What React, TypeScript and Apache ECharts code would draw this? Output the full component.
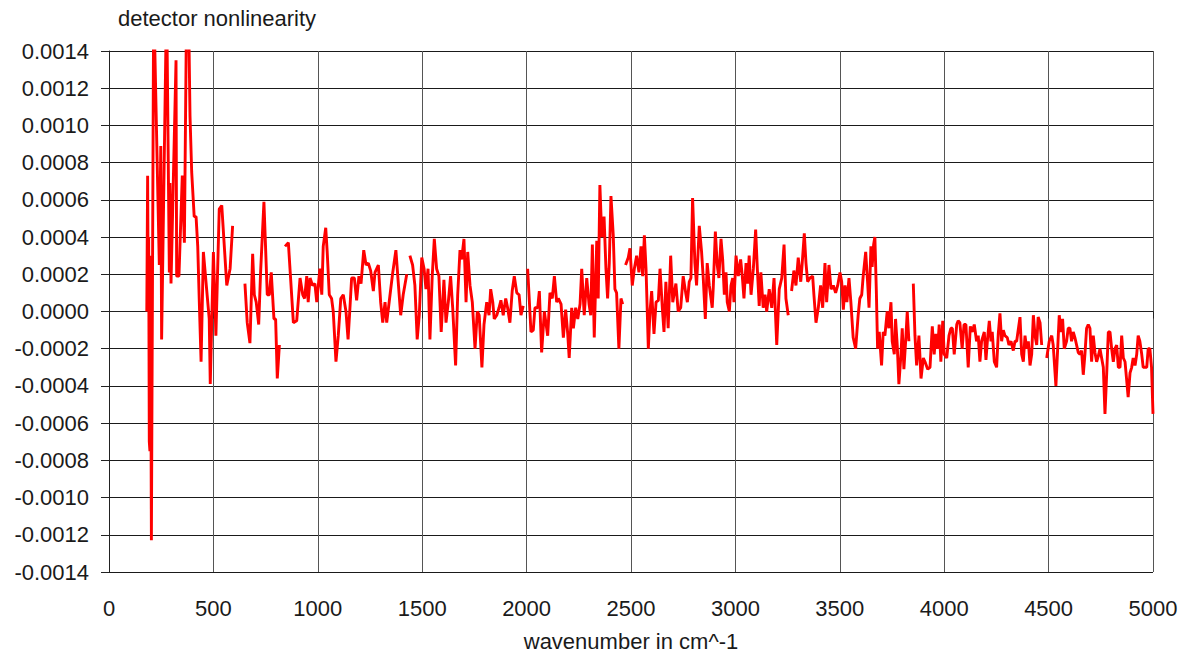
import React, { useEffect, useRef } from "react";
import * as echarts from "echarts";

const chartTitle = "detector nonlinearity";
const xAxisName = "wavenumber in cm^-1";

// wavenumber (cm^-1) positions; null values mark gaps in the measured curve
const wavenumbers = [
  181, 185, 188, 190, 193, 196, 199, 203, 214, 241, 248, 252, 276, 289, 292, 297, 321, 324, 335, 351,
  361, 372, 380, 388, 396, 408, 417, 425, 432, 441, 452, 480, 485, 500, 512, 528, 540, 564, 580, 592,
  620,
  651, 662, 675, 688, 696, 705, 717, 726, 742, 758, 768, 777, 790, 798, 806, 816,
  830,
  843, 859, 883, 899, 915, 928, 937, 947, 954, 963, 975, 986, 995, 1010, 1019, 1026, 1038, 1045, 1055,
  1066, 1074, 1087, 1098, 1110, 1122, 1135, 1145, 1154, 1162, 1175, 1186, 1197, 1207, 1220, 1231, 1242,
  1253, 1266, 1274, 1290, 1301, 1311, 1322, 1330, 1346, 1359, 1374, 1385, 1397, 1409, 1426,
  1433,
  1441, 1454, 1465, 1476, 1486, 1498, 1509, 1518, 1528, 1537, 1548, 1558, 1569, 1580, 1591, 1604, 1614,
  1625, 1636, 1646, 1660, 1670, 1681, 1689, 1700, 1710, 1718, 1729, 1740, 1753, 1764, 1773, 1786, 1796,
  1809, 1820, 1828, 1838, 1845, 1857, 1868, 1877, 1888, 1900, 1909, 1920, 1931, 1941, 1953, 1964, 1973,
  1984,
  1995,
  2005, 2021, 2032, 2040, 2053, 2061, 2072, 2085, 2101, 2112, 2123, 2133, 2144, 2152, 2165, 2176, 2187,
  2197, 2204, 2216, 2224, 2235, 2245, 2256, 2264, 2276, 2288, 2299, 2307, 2315, 2324, 2336, 2343, 2351,
  2360, 2371, 2380, 2388, 2396, 2404, 2415, 2423, 2431, 2442, 2452, 2460,
  2466,
  2474, 2487, 2495, 2506, 2516, 2527, 2538, 2548, 2556, 2564, 2572, 2583, 2591, 2599, 2610, 2620, 2631,
  2639, 2650, 2658, 2667, 2678, 2690, 2700, 2706, 2715, 2726, 2738, 2750, 2762, 2770, 2779, 2787, 2795,
  2806, 2814, 2827, 2838, 2846, 2856, 2865, 2875, 2889, 2894, 2904, 2913, 2921, 2931, 2939, 2947, 2955,
  2961, 2971, 2979, 2987, 2993, 3003, 3014, 3025, 3033, 3041, 3051, 3059, 3066, 3075, 3086, 3097, 3105,
  3114, 3122, 3133, 3142, 3150, 3162, 3174, 3185, 3198, 3210, 3222, 3233, 3242, 3253,
  3258,
  3269, 3280, 3290, 3301, 3313, 3320, 3330, 3338, 3346, 3357, 3370, 3376, 3386, 3397, 3408, 3418, 3429,
  3437, 3448, 3458, 3469, 3480, 3490, 3501, 3509, 3517, 3525, 3534, 3544, 3553, 3564, 3576, 3588, 3596,
  3605, 3612, 3624, 3633, 3640, 3649, 3655, 3662, 3668, 3675, 3681, 3689, 3700, 3708, 3716, 3727, 3735,
  3745, 3751, 3761, 3767, 3775, 3783, 3793, 3799, 3807, 3817, 3823, 3831,
  3840,
  3852, 3860, 3868, 3879, 3889, 3900, 3908, 3921, 3932, 3943, 3952, 3960, 3969, 3976, 3984, 3993, 4000,
  4012, 4023, 4032, 4039, 4048, 4060, 4067, 4075, 4086, 4095, 4104, 4115, 4125, 4134, 4144, 4155, 4163,
  4171, 4179, 4192, 4200, 4208, 4216, 4224, 4230, 4240, 4251, 4259, 4267, 4275, 4283, 4291, 4302, 4310,
  4320, 4331, 4339, 4347, 4363, 4371, 4379, 4387, 4395, 4403, 4411, 4419, 4427, 4435, 4443, 4450, 4459,
  4467,
  4480,
  4491, 4503, 4515, 4522, 4535, 4543, 4551, 4559, 4567, 4575, 4586, 4594, 4602, 4610, 4618, 4626, 4634,
  4642, 4650, 4658, 4666, 4674, 4682, 4690, 4698, 4706, 4714, 4722, 4730, 4738, 4746, 4754, 4762, 4770,
  4778, 4786, 4794, 4802, 4810, 4818, 4826, 4834, 4842, 4850, 4858, 4866, 4874, 4881, 4890, 4898, 4905,
  4914, 4922, 4929, 4937, 4946, 4953, 4961, 4970, 4977, 4985, 4993, 5000,
];

const nonlinearity = [
  0.0, 0.00073, 0.00005, 0.0004, -0.0007, -0.00075, 0.0003, -0.00123, 0.0017, 0.00025, 0.00089, -0.00015,
  0.0017, 0.00021, 0.00069, 0.00015, 0.00135, 0.00019, 0.00019, 0.00073, 0.00037, 0.0017, 0.0017, 0.00105,
  0.00075, 0.00051, 0.00051, 0.00035, 0.00007, -0.00027, 0.00032, -0.00004, -0.00039, 0.00032, -0.00013,
  0.00055, 0.00057, 0.00014, 0.00023, 0.00046,
  null,
  0.00015, -0.00006, -0.00017, 0.00031, 0.00009, 0.00005, -0.00007, 0.00021, 0.00059, 0.00009, 0.00009,
  0.00021, -0.00004, -0.00004, -0.00036, -0.00018,
  null,
  0.00035, 0.00037, -0.00006, -0.00005, 0.00018, 0.00009, 0.00007, 0.00019, 0.00005, 0.00018, 0.00014,
  0.00015, 0.00005, 0.00023, 0.00009, 0.00035, 0.00045, 0.00032, 0.00009, 0.00007, 0.0, -0.00027, -0.00013,
  0.00007, 0.00009, 0.0, -0.00015, 0.00002, 0.00018, 0.00018, 0.00006, 0.00019, 0.00015, 0.00033, 0.00025,
  0.00026, 0.00022, 0.00011, 0.00021, 0.00025, 0.00005, -0.00006, 0.00005, -0.00006, 0.00009, 0.00021,
  0.00033, 0.00016, -0.00002, 0.00009, 0.0002,
  null,
  0.0003, 0.00025, 0.00014, -0.00015, -0.00002, 0.00029, 0.00023, 0.00012, 0.00023, -0.00015, 0.00019,
  0.00039, 0.00023, 0.00019, -0.00011, 0.00017, -0.00006, 0.00005, 0.00019, 0.00002, -0.00029, 0.00009,
  0.00033, 0.00028, 0.00039, 0.00005, 0.00032, 0.00014, 0.00005, -0.0002, 0.0, -0.00002, -0.0003, -0.00007,
  0.00005, -0.00002, 0.00012, 0.00005, -0.00004, -0.00002, 0.00002, 0.00006, -0.00002, 0.00007, 0.00002,
  -0.00006, 0.00011, 0.00019, 0.0001, 0.00009, -0.00002, 0.00003,
  null,
  0.00023, -0.00011, -0.0001, 0.00002, 0.00002, 0.00011, -0.00022, 0.0, -0.00013, 0.0001, 0.00007, 0.00019,
  0.00005, 0.00007, 0.00004, -0.00014, 0.00001, -0.00012, -0.00025, 0.00002, -0.00009, 0.00002, -0.00004,
  0.00004, 0.00023, -0.00002, 0.00018, 0.00004, -0.00002, 0.00036, -0.00014, 0.00038, 0.00007, 0.00068,
  0.0004, 0.00051, 0.00023, 0.00007, 0.00026, 0.00062, 0.00041, 0.00012, 0.0001, -0.0002, 0.00007, 0.00004,
  null,
  0.00025, 0.00029, 0.00034, 0.00014, 0.00023, 0.0003, 0.00021, 0.00035, 0.00019, 0.00041, 0.00023, -0.0002,
  0.0, 0.00011, -0.00012, 0.00005, 0.00006, 0.00023, 0.00002, -0.00011, 0.00016, -0.00009, 0.0003, 0.00005,
  0.00009, 0.00015, 0.0, 0.00002, 0.00019, 0.0001, 0.00005, 0.00016, 0.00018, 0.00061, 0.00026, 0.00014,
  0.00046, 0.00032, 0.00018, -0.00004, 0.00026, 0.00014, 0.00002, 0.00013, 0.00043, 0.00025, 0.00018,
  0.00039, 0.00028, 0.00009, 0.00021, 0.00005, 0.0, 0.00014, 0.00018, 0.00005, 0.0003, 0.00019, 0.00028,
  0.00019, 0.00007, 0.00026, 0.00015, 0.0003, 0.00009, 0.00023, 0.00044, 0.00023, 0.00003, 0.00021, 0.00002,
  0.00009, 0.0, 0.00012, 0.00002, 0.00018, -0.00018, 0.00012, 0.00018, 0.00036, 0.00007, -0.00002,
  null,
  0.00011, 0.00022, 0.00014, 0.00029, 0.00016, 0.00026, 0.00042, 0.00026, 0.00016, 0.00018, 0.00019, 0.00009,
  -0.00006, 0.00002, 0.00014, 0.00002, 0.00026, 0.00005, 0.00025, 0.00012, 0.00014, 0.0001, 0.00014, 0.00021,
  0.00016, 0.00001, 0.00014, 0.00005, 0.00018, 0.00005, -0.00014, -0.0002, -0.00002, 0.00007, 0.00009,
  0.00019, 0.00032, 0.00016, 0.00002, 0.00035, 0.00024, 0.00036, 0.0004, 0.00011, -0.0002, -0.00011,
  -0.00029, -0.00011, -0.00013, 0.0, -0.00009, 0.00005, -0.00016, -0.00023, -0.00004, -0.00018, -0.00039,
  -0.00023, -0.00009, -0.00031, -0.00013, 0.0, -0.00016,
  null,
  0.00015, -0.00013, -0.00029, -0.00013, -0.00036, -0.00025, -0.00027, -0.00031, -0.0003, -0.00008, -0.00023,
  -0.00012, -0.0002, -0.00007, -0.00027, -0.00005, -0.00023, -0.00025, -0.00013, -0.00009, -0.00009,
  -0.00023, -0.00007, -0.00005, -0.00006, -0.0002, -0.00007, -0.00007, -0.0003, -0.00008, -0.00011,
  -0.00007, -0.00016, -0.00013, -0.00027, -0.00016, -0.00011, -0.00026, -0.00014, -0.00005, -0.00016,
  -0.00011, -0.00027, -0.0003, -0.00012, -0.00001, -0.00016, -0.0001, -0.00013, -0.00014, -0.00018,
  -0.00016, -0.00021, -0.00016, -0.00016, -0.00003, -0.00023, -0.00027, -0.00013, -0.0002, -0.00016,
  -0.00029, -0.00023, -0.00002, -0.00013, -0.00018, -0.00003, -0.00006, -0.00018,
  null,
  -0.00025, -0.00016, -0.00013, -0.00018, -0.0004, -0.00021, -0.00002, -0.00011, -0.00004, -0.0002,
  -0.00016, -0.00009, -0.00009, -0.00016, -0.00011, -0.00014, -0.00018, -0.00022, -0.00023, -0.00021,
  -0.00034, -0.00023, -0.00009, -0.00007, -0.00009, -0.00027, -0.00013, -0.00022, -0.00027, -0.00024,
  -0.0002, -0.00025, -0.0003, -0.00055, -0.00034, -0.00011, -0.00011, -0.0002, -0.00027, -0.0002,
  -0.00018, -0.0003, -0.0003, -0.00013, -0.00025, -0.00027, -0.00037, -0.00046, -0.00033, -0.0003,
  -0.00025, -0.00029, -0.00023, -0.00013, -0.00016, -0.00023, -0.0003, -0.0003, -0.0003, -0.0002, -0.0002,
  -0.0003, -0.00055,
];

const xMin = 0;
const xMax = 5000;
const xStep = 500;
const yMin = -0.0014;
const yMax = 0.0014;
const yStep = 0.0002;

const FONT = "'Liberation Sans', Arial, sans-serif";
const TEXT_COLOR = "#1a1a1a";

export default function App() {
  const ref = useRef<HTMLDivElement>(null);

  useEffect(() => {
    if (!ref.current) return;
    const chart = echarts.init(ref.current, undefined, { renderer: "svg" });
    const n = Math.min(wavenumbers.length, nonlinearity.length);
    const data: any[] = [];
    for (let i = 0; i < n; i++) data.push([wavenumbers[i], nonlinearity[i]]);

    chart.setOption({
      animation: false,
      backgroundColor: "#ffffff",
      textStyle: { fontFamily: FONT },
      title: {
        text: chartTitle,
        left: 118,
        top: 7,
        padding: 0,
        textStyle: { fontFamily: FONT, fontSize: 22, fontWeight: "normal", color: TEXT_COLOR },
      },
      grid: { left: 109, right: 34, top: 51, bottom: 82, containLabel: false },
      xAxis: {
        type: "value",
        min: xMin,
        max: xMax,
        interval: xStep,
        name: xAxisName,
        nameLocation: "middle",
        nameGap: 58,
        nameTextStyle: { fontFamily: FONT, fontSize: 22, color: TEXT_COLOR },
        axisLine: { show: true, lineStyle: { color: "#222", width: 1 } },
        axisTick: { show: true, length: 7, inside: false, lineStyle: { color: "#222" } },
        axisLabel: {
          fontFamily: FONT,
          fontSize: 22,
          color: TEXT_COLOR,
          margin: 25,
          formatter: (v: number) => String(Math.round(v)),
        },
        splitLine: { show: true, lineStyle: { color: "#555", width: 1 } },
      },
      yAxis: {
        type: "value",
        min: yMin,
        max: yMax,
        interval: yStep,
        axisLine: { show: true, lineStyle: { color: "#222", width: 1 } },
        axisTick: { show: true, length: 8, inside: false, lineStyle: { color: "#222" } },
        axisLabel: {
          fontFamily: FONT,
          fontSize: 22,
          color: TEXT_COLOR,
          margin: 20,
          formatter: (v: number) => (Math.abs(v) < 1e-12 ? "0.0000" : v.toFixed(4)),
        },
        splitLine: { show: true, lineStyle: { color: "#1a1a1a", width: 1 } },
      },
      series: [
        {
          type: "line",
          data,
          showSymbol: false,
          symbol: "none",
          connectNulls: false,
          clip: true,
          lineStyle: { color: "#ff0000", width: 2.9 },
          itemStyle: { color: "#ff0000" },
        },
      ],
    });
    return () => chart.dispose();
  }, []);

  return (
    <div
      ref={ref}
      style={{ position: "absolute", left: 0, top: 0, width: 1187, height: 657 }}
    />
  );
}
